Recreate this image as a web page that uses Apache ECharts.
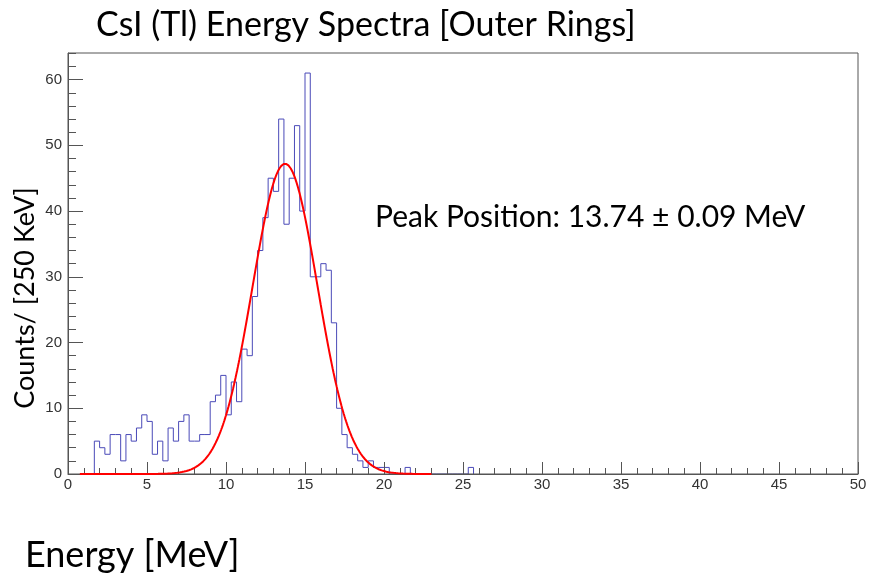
<!DOCTYPE html>
<html>
<head>
<meta charset="utf-8">
<title>CsI (Tl) Energy Spectra [Outer Rings]</title>
<script src="https://cdn.jsdelivr.net/npm/echarts@6/dist/echarts.min.js"></script>
<style>
  html, body { margin: 0; padding: 0; background: #ffffff; }
  #chart { width: 876px; height: 580px; }
</style>
</head>
<body>
<div id="chart"></div>
<script>
// Histogram binning (MeV): 150 bins over 0-50 MeV
const binWidth = 1 / 3;
const firstBinIndex = 5;          // first filled bin starts at 5 * binWidth
// Counts per bin, starting at firstBinIndex
const counts = [
  5, 4, 3, 6, 6, 2, 6, 5, 7, 9,
  8, 3, 5, 2, 7, 5, 8, 9, 5, 5,
  6, 6, 11, 12, 15, 9, 14, 11, 19, 18,
  27, 34, 39, 45, 43, 54, 38, 45, 53, 40,
  61, 30, 30, 32, 31, 23, 10, 6, 4, 3,
  2, 1, 2, 1, 1, 1, 0, 0, 0, 1,
  0, 0, 0, 0, 0, 0, 0, 0, 0, 0,
  0, 1
];

// Gaussian fit result
const peakPosition = 13.74;
const peakError = 0.09;
const fitAmplitude = 47.2;
const fitSigma = 2.05;
const fitRange = [0.75, 23.0];

// Axis settings
const xRange = [0, 50];
const yMax = 64.05;

// Step outline of the histogram
const histData = [[firstBinIndex * binWidth, 0]];
counts.forEach((c, i) => histData.push([(firstBinIndex + i) * binWidth, c]));
histData.push([(firstBinIndex + counts.length) * binWidth, 0]);

// Fit curve sampled across the fit range
const fitData = [];
for (let x = fitRange[0]; x <= fitRange[1] + 1e-9; x += 0.05) {
  const d = (x - peakPosition) / fitSigma;
  fitData.push([x, fitAmplitude * Math.exp(-0.5 * d * d)]);
}

const tickFont = 'Liberation Sans, Arial, sans-serif';
const textFont = 'Lato, "Open Sans", sans-serif';
const axisGray = '#555555';

const chart = echarts.init(document.getElementById('chart'), null, { renderer: 'canvas' });
chart.setOption({
  animation: false,
  backgroundColor: '#ffffff',
  grid: {
    left: 68, right: 18, top: 53, bottom: 106,
    show: true, borderColor: axisGray, borderWidth: 1, z: 3
  },
  xAxis: {
    type: 'value', min: xRange[0], max: xRange[1], interval: 5, z: 3,
    axisLine: { show: true, onZero: false, lineStyle: { color: axisGray, width: 1 } },
    axisTick: { show: true, inside: true, length: 12, lineStyle: { color: axisGray } },
    minorTick: { show: true, splitNumber: 5, length: 6, lineStyle: { color: axisGray } },
    splitLine: { show: false },
    axisLabel: { color: '#333333', fontFamily: tickFont, fontSize: 15, margin: 3 }
  },
  yAxis: [
    {
      type: 'value', min: 0, max: yMax, interval: 10, z: 3,
      axisLine: { show: true, lineStyle: { color: axisGray, width: 1 } },
      axisTick: { show: true, inside: true, length: 15, lineStyle: { color: axisGray } },
      splitLine: { show: false },
      axisLabel: { color: '#333333', fontFamily: tickFont, fontSize: 15, margin: 6, showMaxLabel: false }
    },
    {
      type: 'value', min: 0, max: yMax, interval: 2, position: 'left', z: 3,
      axisLine: { show: false },
      axisTick: { show: true, inside: true, length: 8, lineStyle: { color: axisGray } },
      splitLine: { show: false },
      axisLabel: { show: false }
    }
  ],
  series: [
    {
      name: 'Counts',
      type: 'line',
      step: 'end',
      data: histData,
      symbol: 'none',
      z: 1,
      lineStyle: { color: '#4a4ab8', width: 1 }
    },
    {
      name: 'Gaussian fit',
      type: 'line',
      data: fitData,
      symbol: 'none',
      smooth: false,
      z: 5,
      lineStyle: { color: '#ff0000', width: 2 }
    }
  ],
  graphic: [
    {
      type: 'text', x: 96, y: 25,
      style: {
        text: 'CsI (Tl) Energy Spectra [Outer Rings]', font: '34px ' + textFont, fill: '#000000',
        align: 'left', verticalAlign: 'middle'
      }
    },
    {
      type: 'text', x: 375, y: 217,
      style: {
        text: 'Peak Position: ' + peakPosition.toFixed(2) + ' \u00b1 ' + peakError.toFixed(2) + ' MeV',
        font: '30px ' + textFont, fill: '#000000', align: 'left', verticalAlign: 'middle'
      }
    },
    {
      type: 'text', x: 25, y: 298, rotation: Math.PI / 2,
      style: {
        text: 'Counts/ [250 KeV]', font: '27px ' + textFont, fill: '#000000',
        align: 'center', verticalAlign: 'middle'
      }
    },
    {
      type: 'text', x: 25, y: 555,
      style: {
        text: 'Energy [MeV]', font: '36px ' + textFont, fill: '#000000',
        align: 'left', verticalAlign: 'middle'
      }
    }
  ]
});
</script>
</body>
</html>
